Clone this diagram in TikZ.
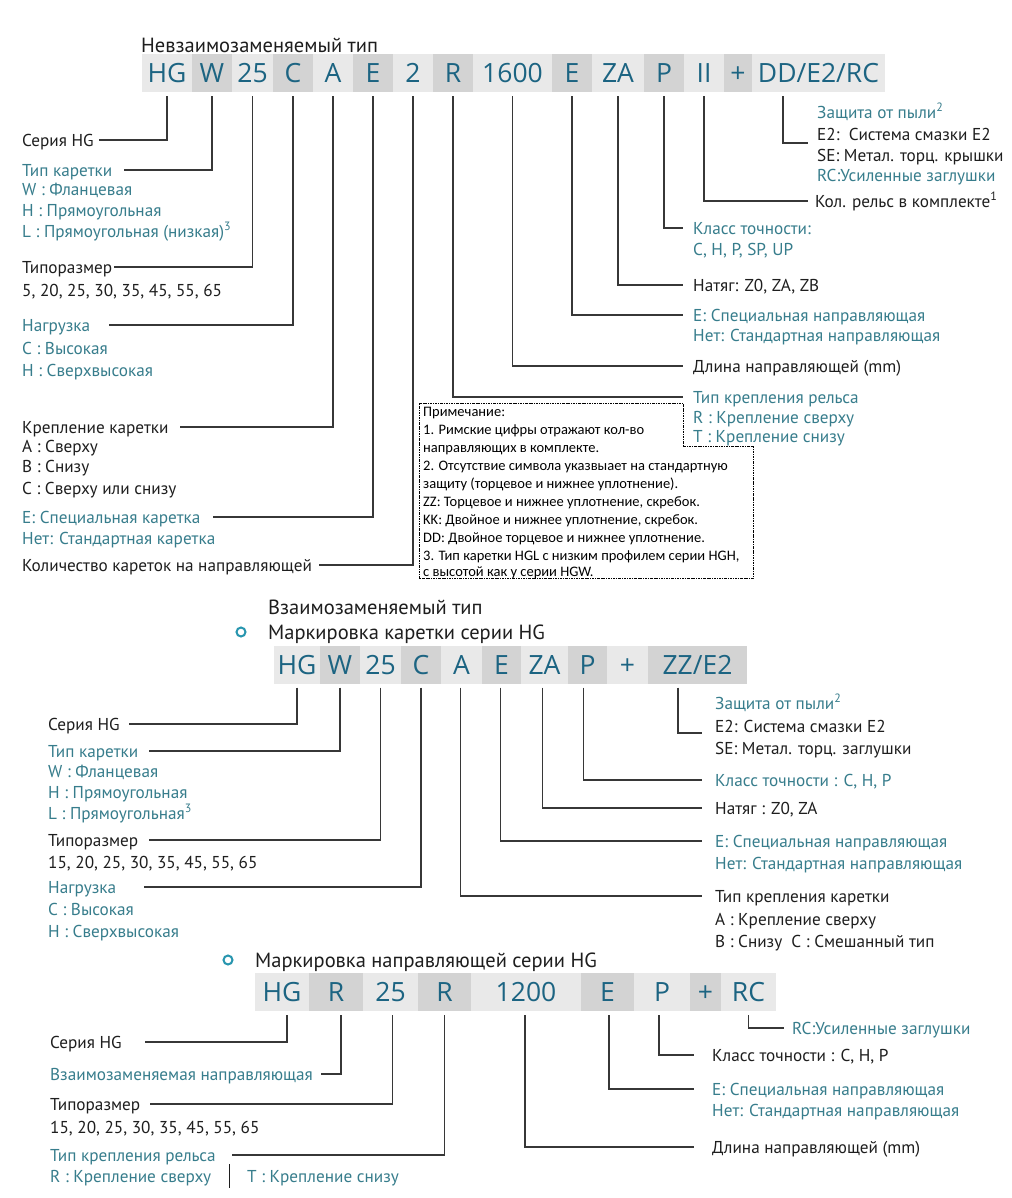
\documentclass[tikz,border=0pt]{standalone}
\usepackage{fontspec}
\setmainfont{PT Sans}
\newfontfamily\notefont{Carlito}
\newfontfamily\codefont{Open Sans}
\definecolor{codec}{RGB}{28,100,130}
\definecolor{tealc}{RGB}{55,125,140}
\definecolor{blk}{RGB}{30,30,30}
\definecolor{celllc}{RGB}{233,233,233}
\definecolor{celldc}{RGB}{211,211,211}
\definecolor{linec}{RGB}{55,55,55}
\definecolor{bulc}{RGB}{40,150,175}
\tikzset{
 cellbase/.style={inner sep=0pt, minimum height=38pt, font=\codefont\fontsize{26.5}{30}\selectfont, text=codec, text height=19pt, text depth=0pt},
 celllt/.style={cellbase, fill=celllc},
 celldk/.style={cellbase, fill=celldc},
 lb/.style={anchor=west, inner sep=0pt, font=\fontsize{17.2}{19}\selectfont, text height=12.2pt, text depth=0pt, text=blk},
 lt/.style={lb, text=tealc},
 conn/.style={draw=linec, line width=1.1pt},
 ttl/.style={anchor=west, inner sep=0pt, font=\fontsize{20.5}{23}\selectfont, text height=14.5pt, text depth=0pt, text=blk},
 notetxt/.style={anchor=west, inner sep=0pt, font=\notefont\fontsize{14.5}{16}\selectfont, text height=9.3pt, text depth=0pt, text=black},
 notebox/.style={draw=black, line width=0.8pt, dash pattern=on 2.5pt off 1pt on 0.8pt off 1pt},
 bullet/.style={circle, draw=bulc, line width=2pt, minimum size=9pt, inner sep=0pt},
}
\begin{document}
\begin{tikzpicture}[x=1pt,y=-1pt]
\useasboundingbox[fill=white] (0,0) rectangle (1011,1198);

%% ================= Section 1 =================
\node[ttl] (h1) at (141,45) {Невзаимозаменяемый тип};

\node[celllt, minimum width=50pt] (c1hg) at (167,73) {HG};
\node[celldk, minimum width=40pt] (c1w) at (212,73) {W};
\node[celllt, minimum width=41pt] (c1sz) at (252.5,73) {25};
\node[celldk, minimum width=40pt] (c1c) at (293,73) {C};
\node[celllt, minimum width=40pt] (c1a) at (333,73) {A};
\node[celldk, minimum width=40pt] (c1e) at (373,73) {E};
\node[celllt, minimum width=40pt] (c1n) at (413,73) {2};
\node[celldk, minimum width=40pt] (c1r) at (453,73) {R};
\node[celllt, minimum width=79pt] (c1len) at (512.5,73) {1600};
\node[celldk, minimum width=40pt] (c1e2) at (572,73) {E};
\node[celllt, minimum width=52pt] (c1za) at (618,73) {ZA};
\node[celldk, minimum width=40pt] (c1p) at (664,73) {P};
\node[celllt, minimum width=40pt] (c1ii) at (704,73) {II};
\node[celldk, minimum width=28pt] (c1plus) at (738,73) {+};
\node[celllt, minimum width=133pt] (c1dd) at (818.5,73) {DD/E2/RC};

% left labels
\node[lb] (l1a) at (22,140) {Серия HG};
\node[lt] (l1b) at (22,170) {Тип каретки};
\node[lt] (l1b1) at (22,189) {W : Фланцевая};
\node[lt] (l1b2) at (22,210) {H : Прямоугольная};
\node[lt] (l1b3) at (22,231) {L : Прямоугольная (низкая)\textsuperscript{3}};
\node[lb] (l1c) at (22,267) {Типоразмер};
\node[lb] (l1c1) at (22,290) {5, 20, 25, 30, 35, 45, 55, 65};
\node[lt] (l1d) at (22,325) {Нагрузка};
\node[lt] (l1d1) at (22,348) {C : Высокая};
\node[lt] (l1d2) at (22,370) {H : Сверхвысокая};
\node[lb] (l1e) at (22,427) {Крепление каретки};
\node[lb] (l1e1) at (22,446) {A : Сверху};
\node[lb] (l1e2) at (22,466) {B : Снизу};
\node[lb] (l1e3) at (22,488) {C : Сверху или снизу};
\node[lt] (l1f) at (22,517) {E: Специальная каретка};
\node[lt] (l1f1) at (22,538) {Нет: Стандартная каретка};
\node[lb] (l1g) at (22,565) {Количество кареток на направляющей};

\draw[conn] ([yshift=-4pt]c1hg.south) |- ([xshift=5pt]l1a.east);
\draw[conn] ([yshift=-4pt]c1w.south) |- ([xshift=12pt]l1b.east);
\draw[conn] ([yshift=-4pt]c1sz.south) |- ([xshift=2pt]l1c.east);
\draw[conn] ([yshift=-4pt]c1c.south) |- ([xshift=19pt]l1d.east);
\draw[conn] ([yshift=-4pt]c1a.south) |- ([xshift=11pt]l1e.east);
\draw[conn] ([yshift=-4pt]c1e.south) |- ([xshift=12pt]l1f.east);
\draw[conn] ([yshift=-4pt]c1n.south) |- ([xshift=7pt]l1g.east);

% right labels
\node[lt] (r1dd1) at (817,112) {Защита от пыли\textsuperscript{2}};
\node[lb] (r1dd2) at (817,134) {E2:\ \ Система смазки E2};
\node[lb] (r1dd3) at (817,155) {SE: Метал. торц. крышки};
\node[lt] (r1dd4) at (817,175) {RC:Усиленные заглушки};
\node[lb] (r1f) at (815,201) {Кол. рельс в комплекте\textsuperscript{1}};
\node[lt] (r1e) at (693,228) {Класс точности:};
\node[lt] (r1e1) at (693,249) {C, H, P, SP, UP};
\node[lb] (r1d) at (693,285) {Натяг: Z0, ZA, ZB};
\node[lt] (r1c) at (693,315) {E: Специальная направляющая};
\node[lt] (r1c1) at (693,335) {Нет: Стандартная направляющая};
\node[lb] (r1b) at (693,366) {Длина направляющей (mm)};
\node[lt] (r1a) at (693,397) {Тип крепления рельса};
\node[lt] (r1a1) at (693,417) {R : Крепление сверху};
\node[lt] (r1a2) at (693,436) {T : Крепление снизу};

\coordinate (e1dd) at (808,143);
\draw[conn] ([xshift=-35.5pt,yshift=-4pt]c1dd.south) |- (e1dd);
\draw[conn] ([yshift=-4pt]c1ii.south) |- ([xshift=-7pt]r1f.west);
\draw[conn] ([yshift=-4pt]c1p.south) |- ([xshift=-10pt]r1e.west);
\draw[conn] ([yshift=-4pt]c1za.south) |- ([xshift=-10pt]r1d.west);
\draw[conn] ([yshift=-4pt]c1e2.south) |- ([xshift=-10pt]r1c.west);
\draw[conn] ([yshift=-4pt]c1len.south) |- ([xshift=-10pt]r1b.west);
\draw[conn] ([yshift=-4pt]c1r.south) |- ([xshift=-10pt]r1a.west);

% note box
\draw[notebox] (419,403) -- (683,403) -- (683,446) -- (753,446) -- (753,578) -- (419,578) -- cycle;
\node[notetxt] (n0) at (423,412) {Примечание:};
\node[notetxt] (n1) at (423,430) {1. Римские цифры отражают кол-во};
\node[notetxt] (n2) at (423,448) {направляющих в комплекте.};
\node[notetxt] (n3) at (423,466) {2. Отсутствие символа указвыает на стандартную};
\node[notetxt] (n4) at (423,484) {защиту (торцевое и нижнее уплотнение).};
\node[notetxt] (n5) at (423,502) {ZZ: Торцевое и нижнее уплотнение, скребок.};
\node[notetxt] (n6) at (423,520) {KK: Двойное и нижнее уплотнение, скребок.};
\node[notetxt] (n7) at (423,538) {DD: Двойное торцевое и нижнее уплотнение.};
\node[notetxt] (n8) at (423,556) {3. Тип каретки HGL с низким профилем серии HGH,};
\node[notetxt] (n9) at (423,572) {с высотой как у серии HGW.};

%% ================= Section 2 =================
\node[ttl] (h2) at (268,607) {Взаимозаменяемый тип};
\node[bullet] (b2) at (241,632) {};
\node[ttl] (h3) at (268,632) {Маркировка каретки серии HG};

\node[celllt, minimum width=46pt] (c2hg) at (297,664.5) {HG};
\node[celldk, minimum width=40pt] (c2w) at (340,664.5) {W};
\node[celllt, minimum width=41pt] (c2sz) at (380.5,664.5) {25};
\node[celldk, minimum width=40pt] (c2c) at (421,664.5) {C};
\node[celllt, minimum width=41pt] (c2a) at (461.5,664.5) {A};
\node[celldk, minimum width=39pt] (c2e) at (501.5,664.5) {E};
\node[celllt, minimum width=47pt] (c2za) at (544.5,664.5) {ZA};
\node[celldk, minimum width=39pt] (c2p) at (587.5,664.5) {P};
\node[celllt, minimum width=41pt] (c2plus) at (627.5,664.5) {+};
\node[celldk, minimum width=99pt] (c2zz) at (697.5,664.5) {ZZ/E2};

\node[lb] (l2a) at (48,724) {Серия HG};
\node[lt] (l2b) at (48,751) {Тип каретки};
\node[lt] (l2b1) at (48,771) {W : Фланцевая};
\node[lt] (l2b2) at (48,792) {H : Прямоугольная};
\node[lt] (l2b3) at (48,813) {L : Прямоугольная\textsuperscript{3}};
\node[lb] (l2c) at (48,840) {Типоразмер};
\node[lb] (l2c1) at (48,862) {15, 20, 25, 30, 35, 45, 55, 65};
\node[lt] (l2d) at (48,887) {Нагрузка};
\node[lt] (l2d1) at (48,909) {C : Высокая};
\node[lt] (l2d2) at (48,931) {H : Сверхвысокая};

\draw[conn] ([yshift=-4pt]c2hg.south) |- ([xshift=9pt]l2a.east);
\draw[conn] ([yshift=-4pt]c2w.south) |- ([xshift=11pt]l2b.east);
\draw[conn] ([yshift=-4pt]c2sz.south) |- ([xshift=11pt]l2c.east);
\draw[conn] ([yshift=-4pt]c2c.south) |- ([xshift=28pt]l2d.east);

\node[lt] (r2a1) at (715,703) {Защита от пыли\textsuperscript{2}};
\node[lb] (r2a2) at (715,726) {E2: Система смазки E2};
\node[lb] (r2a3) at (715,748) {SE: Метал. торц. заглушки};
\node[lt] (r2b) at (715,780) {Класс точности : C, H, P};
\node[lb] (r2c) at (715,808) {Натяг : Z0, ZA};
\node[lt] (r2d) at (715,841) {E: Специальная направляющая};
\node[lt] (r2d1) at (715,863) {Нет: Стандартная направляющая};
\node[lb] (r2e) at (715,896) {Тип крепления каретки};
\node[lb] (r2e1) at (715,919) {A : Крепление сверху};
\node[lb] (r2e2) at (715,941) {B : Снизу\ \ C : Смешанный тип};

\coordinate (e2zz) at (702,733);
\draw[conn] ([xshift=-19.5pt,yshift=-4pt]c2zz.south) |- (e2zz);
\draw[conn] ([xshift=-4pt,yshift=-4pt]c2p.south) |- ([xshift=-13pt]r2b.west);
\draw[conn] ([xshift=-2pt,yshift=-4pt]c2za.south) |- ([xshift=-13pt]r2c.west);
\draw[conn] ([xshift=-1pt,yshift=-4pt]c2e.south) |- ([xshift=-13pt]r2d.west);
\draw[conn] ([xshift=-1pt,yshift=-4pt]c2a.south) |- ([xshift=-13pt]r2e.west);

%% ================= Section 3 =================
\node[bullet] (b3) at (228,960) {};
\node[ttl] (h4) at (255,960) {Маркировка направляющей серии HG};

\node[celllt, minimum width=54pt] (c3hg) at (282,992) {HG};
\node[celldk, minimum width=54pt] (c3r) at (336,992) {R};
\node[celllt, minimum width=55pt] (c3sz) at (390.5,992) {25};
\node[celldk, minimum width=53pt] (c3r2) at (444.5,992) {R};
\node[celllt, minimum width=110pt] (c3len) at (526,992) {1200};
\node[celldk, minimum width=53pt] (c3e) at (607.5,992) {E};
\node[celllt, minimum width=56pt] (c3p) at (662,992) {P};
\node[celldk, minimum width=31pt] (c3plus) at (705.5,992) {+};
\node[celllt, minimum width=55pt] (c3rc) at (748.5,992) {RC};

\node[lb] (l3a) at (50,1042) {Серия HG};
\node[lt] (l3b) at (50,1074) {Взаимозаменяемая направляющая};
\node[lb] (l3c) at (50,1104) {Типоразмер};
\node[lb] (l3c1) at (50,1127) {15, 20, 25, 30, 35, 45, 55, 65};
\node[lt] (l3d) at (50,1155) {Тип крепления рельса};
\node[lt] (l3d1) at (50,1176) {R : Крепление сверху};
\node[lt] (l3d2) at (247,1176) {T : Крепление снизу};
\draw[draw=blk, line width=0.9pt] (229,1164) -- (229,1188);

\draw[conn] ([xshift=5pt,yshift=-4pt]c3hg.south) |- ([xshift=23pt]l3a.east);
\draw[conn] ([xshift=5pt,yshift=-4pt]c3r.south) |- ([xshift=8pt]l3b.east);
\draw[conn] ([xshift=2pt,yshift=-4pt]c3sz.south) |- ([xshift=10pt]l3c.east);
\draw[conn] ([yshift=-4pt]c3r2.south) |- ([xshift=16pt]l3d.east);

\node[lt] (r3a) at (792,1028) {RC:Усиленные заглушки};
\node[lb] (r3b) at (712,1055) {Класс точности : C, H, P};
\node[lt] (r3c) at (712,1089) {E: Специальная направляющая};
\node[lt] (r3c1) at (712,1110) {Нет: Стандартная направляющая};
\node[lb] (r3d) at (712,1147) {Длина направляющей (mm)};

\draw[conn] ([yshift=-4pt]c3rc.south) |- ([xshift=-8pt]r3a.west);
\draw[conn] ([xshift=-3pt,yshift=-4pt]c3p.south) |- ([xshift=-18pt]r3b.west);
\draw[conn] ([xshift=1.5pt,yshift=-4pt]c3e.south) |- ([xshift=-18pt]r3c.west);
\draw[conn] ([xshift=-1pt,yshift=-4pt]c3len.south) |- ([xshift=-18pt]r3d.west);
\end{tikzpicture}
\end{document}
